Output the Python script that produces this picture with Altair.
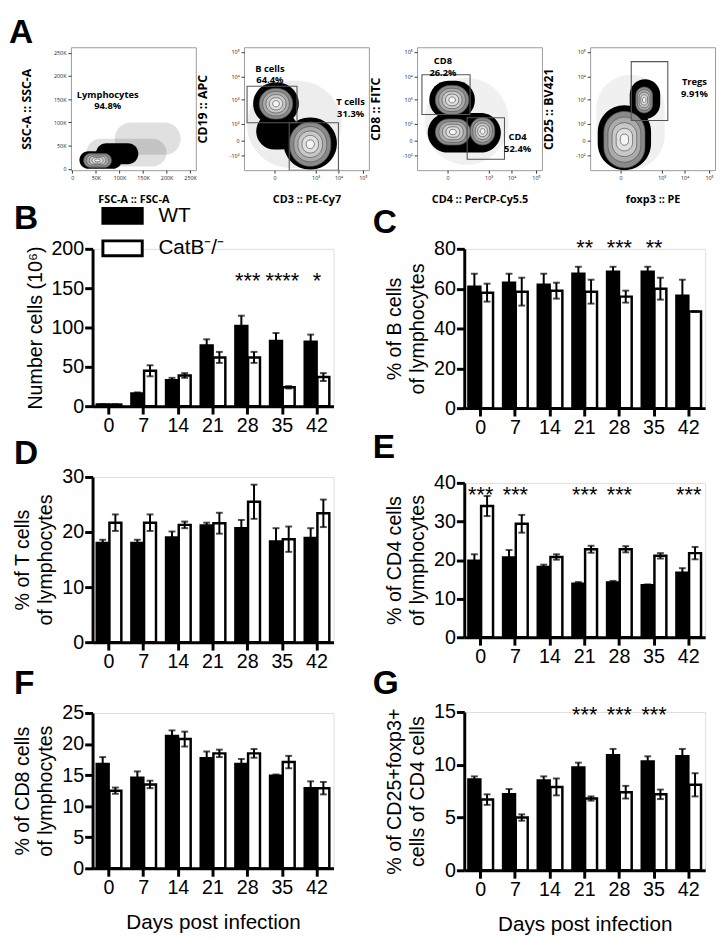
import altair as alt
import pandas as pd

# ---------------- data: bar panels ----------------
DAYS = ["0", "7", "14", "21", "28", "35", "42"]
GROUPS = ["WT", "CatB⁻/⁻"]

B_WT = [2, 16, 33, 77, 102, 83, 82]
B_WT_SEM = [0.5, 1.5, 3, 8, 13, 10, 9]
B_KO = [2, 45, 39, 62, 62, 24, 37]
B_KO_SEM = [0.5, 7, 3, 7, 7, 1.5, 5]
B_STARS = ["", "", "", "", "***", "****", "*"]

C_WT = [61, 63, 62, 67.5, 68.5, 68.5, 56.5]
C_WT_SEM = [6.5, 4.5, 5.5, 3.5, 2.5, 2.5, 8]
C_KO = [58, 58.5, 59, 58.5, 56, 60, 48.5]
C_KO_SEM = [4.5, 7, 4, 6, 3, 5.5, 0]
C_STARS = ["", "", "", "**", "***", "**", ""]

D_WT = [18.0, 18.0, 19.0, 21.2, 20.7, 18.3, 18.9]
D_WT_SEM = [0.6, 0.6, 1.1, 0.5, 1.5, 2.4, 1.8]
D_KO = [21.7, 21.7, 21.3, 21.6, 25.5, 18.7, 23.4]
D_KO_SEM = [1.5, 1.5, 0.6, 1.9, 3.1, 2.3, 2.5]

E_WT = [19.8, 20.7, 18.2, 13.9, 14.2, 13.5, 16.7]
E_WT_SEM = [1.7, 1.9, 0.6, 0.4, 0.4, 0.2, 1.2]
E_KO = [34.0, 29.4, 20.8, 22.8, 22.8, 21.1, 21.8]
E_KO_SEM = [2.6, 2.3, 0.7, 0.9, 0.8, 0.7, 1.6]
E_STARS = ["***", "***", "", "***", "***", "", "***"]

F_WT = [16.8, 14.6, 21.3, 17.7, 16.8, 14.9, 12.9]
F_WT_SEM = [1.1, 1.0, 0.9, 1.1, 0.8, 0.2, 1.1]
F_KO = [12.5, 13.5, 20.8, 18.5, 18.5, 17.1, 12.9]
F_KO_SEM = [0.5, 0.6, 1.2, 0.6, 0.7, 1.0, 1.0]

G_WT = [8.6, 7.2, 8.5, 9.75, 10.9, 10.3, 10.8]
G_WT_SEM = [0.3, 0.5, 0.4, 0.45, 0.6, 0.5, 0.7]
G_KO = [6.7, 5.0, 7.9, 6.8, 7.4, 7.2, 8.1]
G_KO_SEM = [0.5, 0.3, 0.8, 0.2, 0.6, 0.45, 1.1]
G_STARS = ["", "", "", "***", "***", "***", ""]

# ---------------- data: flow panels (panel A) ----------------
FLOW_XTITLES = ["FSC-A :: FSC-A", "CD3 :: PE-Cy7", "CD4 :: PerCP-Cy5.5", "foxp3 :: PE"]
FLOW_YTITLES = ["SSC-A :: SSC-A", "CD19 :: APC", "CD8 :: FITC", "CD25 :: BV421"]
LIN_TICKS = [0, 50, 100, 150, 200, 250]          # thousands
BIEX_TICKS = [-1, 0, 1.1, 2.7, 4.2, 5.8]          # display positions of -10^2 .. 10^5
BIEX_LABELS = ["-10²", "0", "10²", "10³", "10⁴", "10⁵"]
BIEX_XTICKS = [0, 2.7, 4.2, 5.8]

# blobs (population extents): panel, kind, x0, x1, y0, y1
BLOB_PANEL = [0, 0, 0, 0, 0,
              1, 1, 1, 1, 1, 1,
              2, 2, 2, 2, 2, 2,
              3, 3, 3, 3, 3]
BLOB_KIND = ["sparse", "sparse", "dense", "dense", "contour",
             "sparse", "dense", "dense", "dense", "contour", "contour",
             "sparse", "dense", "dense", "contour", "contour", "contour",
             "sparse", "dense", "dense", "contour", "contour"]
BLOB_X0 = [30, 90, 15, 50, 24,
           -1.8, -1.4, 0.6, -1.2, -1.0, 1.0,
           -1.5, -1.2, -1.3, -0.8, -0.8, 1.5,
           -1.6, -1.5, 0.6, -1.1, 1.0]
BLOB_X1 = [200, 230, 105, 140, 83,
           4.4, 1.6, 4.1, 1.6, 1.2, 3.7,
           4.0, 1.8, 3.5, 1.4, 1.5, 3.1,
           2.9, 2.0, 2.6, 1.6, 2.1]
BLOB_Y0 = [5, 30, 0, 10, 3,
           -1.8, 1.0, -1.9, -0.6, 1.4, -1.7,
           -1.6, 1.4, -0.8, 1.7, -0.3, -0.3,
           -1.9, -1.95, 1.4, -1.8, 1.8]
BLOB_Y1 = [65, 100, 38, 55, 33,
           3.9, 3.8, 1.5, 1.8, 3.4, 1.2,
           4.1, 3.9, 1.8, 3.6, 1.4, 1.5,
           4.3, 2.3, 4.0, 1.9, 3.5]
SPARSE_OPACITY = [0.12, 0.07, 0.06, 0.06]

# gates: panel, x0, x1, y0, y1
GATE_PANEL = [1, 1, 2, 2, 3]
GATE_X0 = [-1.8, 0.97, -1.68, 1.29, 0.7]
GATE_X1 = [1.48, 4.2, 1.48, 3.74, 3.1]
GATE_Y0 = [1.16, -1.95, 1.7, -1.23, 1.3]
GATE_Y1 = [3.55, 1.16, 4.3, 1.48, 5.16]

# gate labels
LAB_PANEL = [0, 1, 1, 2, 2, 3]
LAB_TEXT = ["Lymphocytes\n94.8%", "B cells\n64.4%", "T cells\n31.3%",
            "CD8\n26.2%", "CD4\n52.4%", "Tregs\n9.91%"]
LAB_X = [75, -0.3, 5.0, -0.3, 4.6, 4.85]
LAB_Y = [160, 4.7, 2.5, 5.2, 0.2, 3.8]

RING_FRACTIONS = [1.0, 0.8, 0.6, 0.4, 0.2]

FONT = "Liberation Sans"
FLOW_FONT = "Open Sans"


def letter(ch, dx=0, offset=0):
    return alt.TitleParams(ch, anchor="start", frame="group", fontSize=34,
                           fontWeight="bold", font=FONT, color="black",
                           dx=dx, offset=offset)


# ---------------- flow panels ----------------
def biex_expr(values, labels):
    expr = "''"
    for v, l in zip(values, labels):
        expr = f"(abs(datum.value - ({v})) < 0.01 ? '{l}' : {expr})"
    return expr


def flow_panel(p, panel_letter=None):
    lin = (p == 0)
    if lin:
        xdom, ydom = [-3, 262], [-3, 262]
        xvals, yvals = LIN_TICKS, LIN_TICKS
        xexpr = yexpr = "datum.value == 0 ? '0' : datum.value + 'K'"
    else:
        xdom, ydom = [-2.0, 6.2], [-1.95, 6.1]
        xvals, yvals = BIEX_XTICKS, BIEX_TICKS
        xexpr = yexpr = biex_expr(BIEX_TICKS, BIEX_LABELS)

    common = dict(labelFontSize=5.5, labelFont=FLOW_FONT, labelColor="#222",
                  tickSize=3, tickColor="black", tickWidth=0.8, domain=False, grid=False,
                  labelPadding=2, labelOverlap=False, titleFont=FLOW_FONT,
                  titleFontWeight="bold", titleColor="black")
    xax = alt.Axis(values=xvals, labelExpr=xexpr, title=FLOW_XTITLES[p],
                   titleFontSize=11, titlePadding=13, **common)
    yax = alt.Axis(values=yvals, labelExpr=yexpr, title=FLOW_YTITLES[p],
                   titleFontSize=12.5, titlePadding=20, **common)
    xs = alt.Scale(domain=xdom, nice=False, zero=False)
    ys = alt.Scale(domain=ydom, nice=False, zero=False)

    blobs = pd.DataFrame(dict(panel=BLOB_PANEL, kind=BLOB_KIND, x0=BLOB_X0, x1=BLOB_X1,
                              y0=BLOB_Y0, y1=BLOB_Y1))
    blobs = blobs[blobs.panel == p]
    sparse = blobs[blobs.kind == "sparse"]
    dense = blobs[blobs.kind == "dense"]
    cont = blobs[blobs.kind == "contour"]
    rings = []
    for i, r in enumerate(cont.itertuples()):
        cx, cy = (r.x0 + r.x1) / 2, (r.y0 + r.y1) / 2
        hx, hy = (r.x1 - r.x0) / 2, (r.y1 - r.y0) / 2
        for k, f in enumerate(RING_FRACTIONS):
            rings.append(dict(pop=i, ring=k, x0=cx - hx * f, x1=cx + hx * f,
                              y0=cy - hy * f, y1=cy + hy * f))
    rings = pd.DataFrame(rings)

    X = alt.X("x0:Q", scale=xs, axis=xax)
    Y = alt.Y("y0:Q", scale=ys, axis=yax)
    base_enc = dict(x=X, x2="x1:Q", y=Y, y2="y1:Q")

    layers = [
        alt.Chart(sparse).mark_rect(cornerRadius=999, color="black",
                                    opacity=SPARSE_OPACITY[p], clip=True).encode(**base_enc),
        alt.Chart(dense).mark_rect(cornerRadius=999, color="black",
                                   clip=True).encode(**base_enc),
        alt.Chart(rings).mark_rect(cornerRadius=999, stroke="#555", strokeWidth=0.7,
                                   clip=True).encode(
            **base_enc,
            fill=alt.Fill("ring:O", scale=alt.Scale(domain=[0, 1, 2, 3, 4],
                          range=["#8a8a8a", "#ababab", "#c8c8c8", "#e0e0e0", "#f4f4f4"]),
                          legend=None),
            order=alt.Order("ring:O")),
    ]
    gates = pd.DataFrame(dict(panel=GATE_PANEL, x0=GATE_X0, x1=GATE_X1, y0=GATE_Y0, y1=GATE_Y1))
    gates = gates[gates.panel == p]
    if len(gates):
        layers.append(alt.Chart(gates).mark_rect(fillOpacity=0, stroke="#555",
                                                 strokeWidth=1.1, clip=True).encode(**base_enc))
    labs = pd.DataFrame(dict(panel=LAB_PANEL, text=LAB_TEXT, x=LAB_X, y=LAB_Y))
    labs = labs[labs.panel == p]
    layers.append(alt.Chart(labs).mark_text(font=FLOW_FONT, fontWeight="bold", fontSize=9.5,
                                            lineBreak="\n", lineHeight=12, color="black").encode(
        x=alt.X("x:Q", scale=xs, axis=xax), y=alt.Y("y:Q", scale=ys, axis=yax), text="text:N"))
    if panel_letter:
        # the panel letter, placed to the left of the first flow plot
        layers.append(alt.Chart(pd.DataFrame({"t": [panel_letter]})).mark_text(
            font=FONT, fontSize=34, fontWeight="bold", align="left", baseline="alphabetic",
            color="black").encode(x=alt.value(-63), y=alt.value(-4), text="t:N"))
    return alt.layer(*layers).properties(width=127, height=125,
                                         view=alt.ViewBackground(stroke="#9a9a9a", strokeWidth=1))


# ---------------- bar panels ----------------
def bar_panel(wt, wts, ko, kos, ytitle, ymax, ystep, height, title,
              stars=None, star_y=None, xtitle=None, legend=False, width=245):
    rows = []
    for i, d in enumerate(DAYS):
        rows.append(dict(day=d, group=GROUPS[0], mean=wt[i], lo=wt[i] - wts[i], hi=wt[i] + wts[i]))
        rows.append(dict(day=d, group=GROUPS[1], mean=ko[i], lo=ko[i] - kos[i], hi=ko[i] + kos[i]))
    df = pd.DataFrame(rows)

    xax = alt.Axis(title=xtitle, labelAngle=0, labelFontSize=20, labelFont=FONT,
                   tickSize=8, tickWidth=3, domainWidth=3, tickColor="black",
                   domainColor="black", labelColor="black", labelPadding=2,
                   labelOverlap=False,
                   titleFont=FONT, titleFontSize=21, titleFontWeight="normal",
                   titleColor="black", titlePadding=14, grid=False)
    xs = alt.X("day:N", sort=DAYS,
               scale=alt.Scale(paddingInner=0.29, paddingOuter=0.12), axis=xax)
    xo = alt.XOffset("group:N", sort=GROUPS, scale=alt.Scale(paddingInner=0.06))
    yscale = alt.Scale(domain=[0, ymax], nice=False)
    yax = alt.Axis(values=list(range(0, ymax + 1, ystep)), title=ytitle, labelFontSize=20,
                   labelFont=FONT, tickSize=8, tickWidth=3, domainWidth=3, tickColor="black",
                   domainColor="black", labelColor="black", labelPadding=1, labelOverlap=False,
                   titleFont=FONT, titleFontSize=20, titleFontWeight="normal",
                   titleLineHeight=24, titleColor="black", titlePadding=6, grid=False)

    if legend:
        leg = alt.Legend(orient="none", legendX=20, legendY=-44, title=None,
                         symbolType="M-2.5,-0.95H2.5V0.95H-2.5Z", symbolSize=256,
                         symbolStrokeColor="black", symbolStrokeWidth=3,
                         labelFontSize=21, labelFont=FONT, labelOffset=26, rowPadding=4,
                         labelColor="black")
    else:
        leg = None
    color = alt.Color("group:N", scale=alt.Scale(domain=GROUPS, range=["black", "white"]),
                      legend=leg)

    def Y(field):
        return alt.Y(field, scale=yscale, axis=yax)

    bars = alt.Chart(df).mark_bar(stroke="black", strokeWidth=2.5).encode(
        x=xs, xOffset=xo, y=Y("mean:Q"), color=color)
    err = alt.Chart(df).mark_rule(color="black", strokeWidth=2).encode(
        x=xs, xOffset=xo, y=Y("lo:Q"), y2="hi:Q")
    cap_hi = alt.Chart(df).mark_tick(color="black", thickness=2, size=7).encode(
        x=xs, xOffset=xo, y=Y("hi:Q"))
    cap_lo = alt.Chart(df).mark_tick(color="black", thickness=2, size=7).encode(
        x=xs, xOffset=xo, y=Y("lo:Q"))
    layers = [bars, err, cap_hi, cap_lo]
    if stars is not None:
        sdf = pd.DataFrame(dict(day=DAYS, star=stars, sy=[star_y] * len(DAYS)))
        sdf = sdf[sdf.star != ""]
        layers.append(alt.Chart(sdf).mark_text(font=FONT, fontSize=22, baseline="middle",
                                               color="black").encode(
            x=xs, y=Y("sy:Q"), text="star:N"))
    return alt.layer(*layers).properties(width=width, height=height, title=title)


def indep(ch):
    return ch.resolve_scale(color="independent", fill="independent").resolve_legend(
        color="independent", fill="independent")


A1 = flow_panel(0, panel_letter="A")
A2 = flow_panel(1)
A3 = flow_panel(2)
A4 = flow_panel(3)
rowA = indep(alt.hconcat(A1, A2, A3, A4, spacing=49, bounds="flush"))

B = bar_panel(B_WT, B_WT_SEM, B_KO, B_KO_SEM, "Number cells (10⁶)", 200, 50, 160,
              letter("B", dx=-80, offset=-31), stars=B_STARS, star_y=159, legend=True)
C = bar_panel(C_WT, C_WT_SEM, C_KO, C_KO_SEM, ["% of B cells", "of lymphocytes"], 80, 20, 162,
              letter("C", dx=-93, offset=-3), stars=C_STARS, star_y=80.5)
D = bar_panel(D_WT, D_WT_SEM, D_KO, D_KO_SEM, ["% of T cells", "of lymphocytes"], 30, 10, 168,
              letter("D", dx=-80, offset=-4))
E = bar_panel(E_WT, E_WT_SEM, E_KO, E_KO_SEM, ["% of CD4 cells", "of lymphocytes"], 40, 10, 157,
              letter("E", dx=-93, offset=8), stars=E_STARS, star_y=36.8)
F = bar_panel(F_WT, F_WT_SEM, F_KO, F_KO_SEM, ["% of CD8 cells", "of lymphocytes"], 25, 5, 158,
              letter("F", dx=-80, offset=2), xtitle="Days post infection")
G = bar_panel(G_WT, G_WT_SEM, G_KO, G_KO_SEM, ["% of CD25+foxp3+", "cells of CD4 cells"], 15, 5, 161,
              letter("G", dx=-93, offset=1), stars=G_STARS, star_y=14.7, xtitle="Days post infection")

left = indep(alt.vconcat(B, D, F, spacing=72, bounds="flush"))
right = indep(alt.vconcat(C, E, G, spacing=76, bounds="flush"))
cols = indep(alt.hconcat(left, right, spacing=38))

# an empty 1-px cell that carries the origin of the lower block, so that the
# lower plots start 20 px to the right of the first flow plot
spacer = alt.Chart(pd.DataFrame({"t": [""]})).mark_text(opacity=0).encode(
    x=alt.value(0), y=alt.value(0), text="t:N").properties(width=1, height=1)
bottom = indep(alt.hconcat(spacer, cols, spacing=-62))

chart = indep(alt.vconcat(rowA, bottom, spacing=-3)).configure_view(
    stroke=None).configure(padding=0, background="white")

chart.save("out.html", embed_options={"renderer": "svg", "actions": False})
